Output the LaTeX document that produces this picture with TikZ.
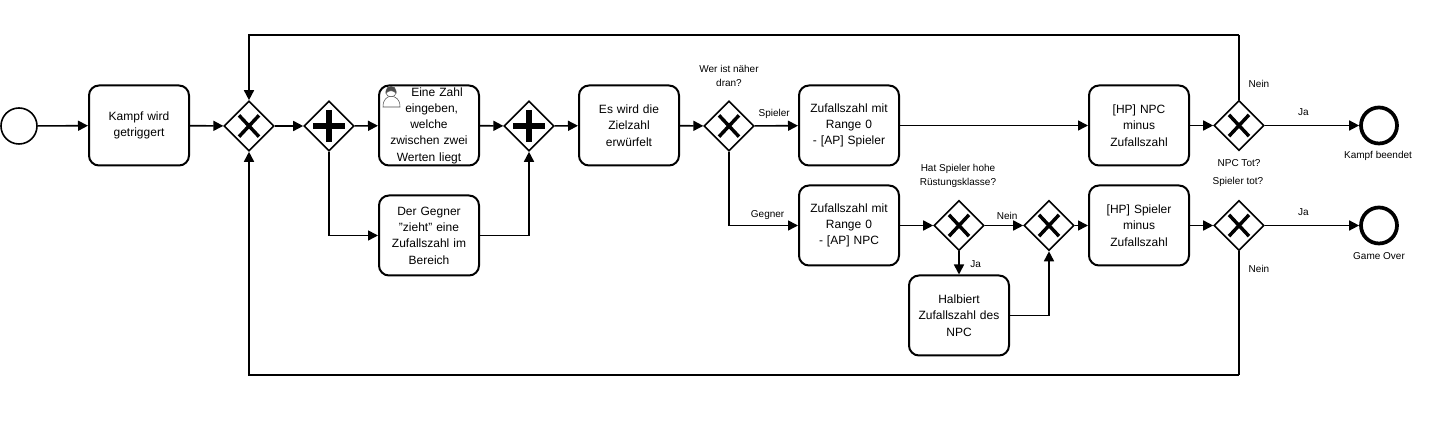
\documentclass[tikz,border=0pt]{standalone}
\usepackage{fontspec}
\setmainfont{Liberation Sans}
\usetikzlibrary{arrows.meta,shapes.geometric}

\tikzset{
  taskbox/.style  = {shape=rectangle, rounded corners=7.5pt, draw, line width=1.5pt,
                     align=center, minimum width=75pt, minimum height=60pt,
                     inner sep=0pt, text width=72pt, font=\fontsize{9}{12.2}\selectfont},
  gate/.style     = {shape=diamond, draw, line width=1.2pt, aspect=1,
                     minimum size=37.5pt, inner sep=0pt},
  xor/.style      = {gate, path picture={
                     \draw[line width=2.6pt] (path picture bounding box.center)+(-7.5pt,-8pt) -- +(7.5pt,8pt);
                     \draw[line width=2.6pt] (path picture bounding box.center)+(-7.5pt,8pt) -- +(7.5pt,-8pt);}},
  par/.style      = {gate, path picture={
                     \draw[line width=4.5pt] (path picture bounding box.center)+(-12pt,0) -- +(12pt,0);
                     \draw[line width=4.5pt] (path picture bounding box.center)+(0,-12pt) -- +(0,12pt);}},
  startev/.style  = {shape=circle, draw, line width=1.2pt, minimum size=27pt, inner sep=0pt},
  endev/.style    = {shape=circle, draw, line width=2.8pt, minimum size=27pt, inner sep=0pt},
  note/.style     = {align=center, inner sep=0pt, font=\fontsize{7.5}{10.5}\selectfont},
  flow/.style     = {draw, line width=1.2pt, -{Triangle[length=7.5pt,width=7.5pt]}},
  line/.style     = {draw, line width=1.2pt}
}

\begin{document}
\begin{tikzpicture}[x=0.75pt,y=-0.75pt]
\useasboundingbox (0,0) rectangle (1440,423);
% events and tasks
\node[startev] (start) at (19,126) {};
\node[taskbox] (trigger) at (139,125.5) {Kampf wird\\getriggert};
\node[xor] (gwloop) at (249,126) {};
\node[par] (gwsplit) at (329,126) {};
\node[taskbox] (eingabe) at (429,125.5) {\hspace*{12pt}Eine Zahl\\\hspace*{4pt}eingeben,\\welche\\zwischen zwei\\Werten liegt};
\node[taskbox] (gegner) at (429,235.5) {Der Gegner\\"zieht" eine\\Zufallszahl im\\Bereich};
\node[par] (gwjoin) at (529,126) {};
\node[taskbox] (zielzahl) at (629,125.5) {Es wird die\\Zielzahl\\erwürfelt};
\node[xor] (gwnaeher) at (729,126) {};
\node[taskbox] (zufallspieler) at (849,125.5) {Zufallszahl mit\\Range 0\\- [AP] Spieler};
\node[taskbox] (zufallnpc) at (849,225.5) {Zufallszahl mit\\Range 0\\- [AP] NPC};
\node[xor] (gwruestung) at (959,225.5) {};
\node[xor] (gwmerge) at (1049,225.5) {};
\node[taskbox] (halbiert) at (959,315.5) {Halbiert\\Zufallszahl des\\NPC};
\node[taskbox] (hpnpc) at (1139,125.5) {[HP] NPC\\minus\\Zufallszahl};
\node[taskbox] (hpspieler) at (1139,225.5) {[HP] Spieler\\minus\\Zufallszahl};
\node[xor] (gwnpctot) at (1239,125.5) {};
\node[xor] (gwspielertot) at (1239,225.5) {};
\node[endev] (endkampf) at (1379,125.5) {};
\node[endev] (endover) at (1379,225.5) {};
% user icon
\begin{scope}[line width=0.4pt, draw=black!70]
\draw[fill=white] (383,107) .. controls (383,99) and (387,97) .. (391,96) .. controls (396,97) and (400,99) .. (400,107) -- cycle;
\draw[fill=black!70] (386,91) .. controls (386,85) and (396,85) .. (396,91) -- (396,93) .. controls (393,90) and (389,90) .. (386,93) -- cycle;
\draw[fill=white] (386,93) .. controls (389,90) and (393,90) .. (396,93) .. controls (396,98) and (386,98) .. (386,93) -- cycle;
\end{scope}
% flows
\path[flow] (start) -- (trigger);
\path[flow] (trigger) -- (gwloop);
\path[flow] (gwloop) -- (gwsplit);
\path[flow] (gwsplit) -- (eingabe);
\path[flow] (gwsplit) |- (gegner);
\path[flow] (eingabe) -- (gwjoin);
\path[flow] (gegner) -| (gwjoin);
\path[flow] (gwjoin) -- (zielzahl);
\path[flow] (zielzahl) -- (gwnaeher);
\path[flow] (gwnaeher) -- node[note, pos=0.45, above=5pt] {Spieler} (zufallspieler);
\path[flow] (gwnaeher) |- node[note, pos=0.78, above=4pt] {Gegner} (zufallnpc);
\path[flow] (zufallspieler) -- (hpnpc);
\path[flow] (zufallnpc) -- (gwruestung);
\path[flow] (gwruestung) -- node[note, pos=0.58, above=4pt] {Nein} (gwmerge);
\path[flow] (gwruestung) -- node[note, pos=0.55, right=8pt] {Ja} (halbiert);
\path[flow] (halbiert) -| (gwmerge);
\path[flow] (gwmerge) -- (hpspieler);
\path[flow] (hpnpc) -- (gwnpctot);
\path[flow] (hpspieler) -- (gwspielertot);
\path[flow] (gwnpctot) -- node[note, pos=0.41, above=7pt] {Ja} (endkampf);
\path[flow] (gwspielertot) -- node[note, pos=0.41, above=7pt] {Ja} (endover);
\coordinate (looptop) at (1239,35);
\coordinate (loopbottom) at (1239,375);
\path[line] (gwnpctot) -- (looptop);
\path[flow] (looptop) -| (gwloop);
\path[line] (gwspielertot) -- (loopbottom);
\path[flow] (loopbottom) -| (gwloop);
% labels
\node[note] (lblnaeher) at (729,76) {Wer ist näher\\dran?};
\node[note] (lblnpctot) at (1239,163) {NPC Tot?};
\node[note] (lblspielertot) at (1238,182) {Spieler tot?};
\node[note] (lblruestung) at (958,176) {Hat Spieler hohe\\Rüstungsklasse?};
\node[note] (lblkampf) at (1378,156) {Kampf beendet};
\node[note] (lblover) at (1379,256) {Game Over};
\node[note] (lblneinoben) at (1259,84) {Nein};
\node[note] (lblneinunten) at (1259,269) {Nein};
\end{tikzpicture}
\end{document}
